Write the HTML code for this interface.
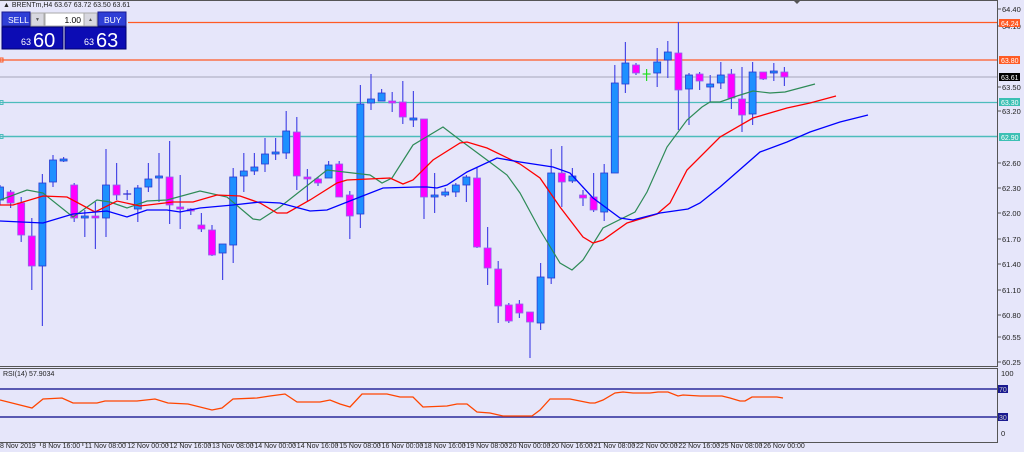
<!DOCTYPE html>
<html><head><meta charset="utf-8"><style>
html,body{margin:0;padding:0;background:#e6e6fa;width:1024px;height:452px;overflow:hidden;font-family:"Liberation Sans",sans-serif}
svg{position:absolute;left:0;top:0}
.t{font-size:7.5px;fill:#222}
.d{font-size:7px;fill:#222}
</style></head><body>
<svg id="s" width="1024" height="452" xmlns="http://www.w3.org/2000/svg">
<rect width="1024" height="452" fill="#e6e6fa"/>
<line x1="997.5" y1="0" x2="997.5" y2="366" stroke="#555" stroke-width="1"/>
<line x1="0" y1="0.5" x2="997" y2="0.5" stroke="#555"/>
<polygon points="793,0 801,0 797,4" fill="#555"/>
<line x1="0" y1="366.5" x2="998" y2="366.5" stroke="#555"/>
<line x1="0" y1="368.5" x2="998" y2="368.5" stroke="#555"/>
<line x1="997.5" y1="368" x2="997.5" y2="442" stroke="#555"/>
<line x1="0" y1="442.5" x2="998" y2="442.5" stroke="#555"/>
<line x1="128" y1="22.5" x2="997" y2="22.5" stroke="#ff5a24" stroke-width="1.3"/>
<line x1="0" y1="60" x2="997" y2="60" stroke="#ff5a24" stroke-width="1.3"/>
<rect x="0" y="58" width="3" height="4" fill="none" stroke="#ff5a24"/>
<line x1="0" y1="77" x2="997" y2="77" stroke="#b4b4c8" stroke-width="1.2"/>
<line x1="0" y1="102.5" x2="997" y2="102.5" stroke="#4cbcbc" stroke-width="1.3"/>
<rect x="0" y="100.5" width="3" height="4" fill="none" stroke="#4cbcbc"/>
<line x1="0" y1="136.5" x2="997" y2="136.5" stroke="#4cbcbc" stroke-width="1.6"/>
<rect x="0" y="134.5" width="3" height="4" fill="none" stroke="#4cbcbc"/>
<g id="cand"></g>
<polyline fill="none" stroke="#2e8b57" stroke-width="1.2" points="0,200 27,190 43,193 73,217 97,200 110,202 127,208 147,201 167,200 200,191 227,197 253,219 260,220 280,207 327,170 370,175 382,183 392,178 413,145 443,127 460,140 487,160 507,175 520,193 540,230 560,263 572,270 583,260 603,228 635,212 647,192 667,147 687,120 702,107 710,102 720,102 737,96 753,91 770,93 785,92 815,84"/>
<polyline fill="none" stroke="#ff0000" stroke-width="1.3" points="0,205 13,205 43,196 67,197 95,212 117,201 140,206 173,202 193,202 217,195 240,196 260,203 277,213 287,213 310,200 337,183 347,180 390,178 403,184 413,180 433,160 460,143 467,142 487,148 520,164 540,178 560,207 583,237 593,243 603,240 627,223 657,214 670,203 687,170 720,137 753,118 787,108 810,103 836,96"/>
<polyline fill="none" stroke="#0000ff" stroke-width="1.3" points="0,221 43,223 73,214 107,211 127,217 147,210 167,210 180,212 200,208 233,205 260,202 280,203 310,211 327,210 360,197 383,188 417,187 427,187 437,188 447,185 467,172 497,158 520,162 553,167 570,173 593,198 620,218 633,220 660,213 688,209 700,203 720,187 760,152 787,142 810,132 840,122 868,115"/>
<line x1="0" y1="389" x2="997" y2="389" stroke="#2a2a9a" stroke-width="1.5"/>
<line x1="0" y1="417" x2="997" y2="417" stroke="#2a2a9a" stroke-width="1.5"/>
<polyline fill="none" stroke="#ff4500" stroke-width="1.3" points="0,400 32,408 43,399 62,398 73,403 97,403 105,401 137,401 155,399 168,403 188,404 212,410 222,408 233,399 257,398 270,396 285,394 297,402 308,402 320,402 330,400 340,404 350,407 362,394 387,394 400,397 413,397 423,407 447,406 457,404 467,404 477,412 490,413 503,416 513,416 532,416 540,410 550,399 570,399 590,403 595,403 603,400 615,393 623,392 633,393 650,393 658,392 668,392 678,396 683,395 700,396 722,396 730,398 740,401 745,401 752,397 760,397 777,397 783,398"/>
<text x="3" y="376" class="t" style="font-size:7px">RSI(14) 57.9034</text>
<g class="t" id="ax"></g>
<g class="d" id="dt"></g>
<text x="3" y="7" class="t" style="font-size:7px">▲ BRENTm,H4  63.67 63.72 63.50 63.61</text>
<rect x="2" y="12" width="28" height="14" fill="#2f3fd6" stroke="#1a1a90"/>
<text x="8" y="23" fill="#fff" style="font-size:8.5px">SELL</text>
<rect x="31" y="13" width="13" height="13" fill="#d8d8e0" stroke="#aaa"/>
<text x="35" y="21" fill="#555" style="font-size:5px">▼</text>
<rect x="45" y="13" width="39" height="13" fill="#fff" stroke="#aaa"/>
<text x="81" y="23" text-anchor="end" fill="#000" style="font-size:8.5px">1.00</text>
<rect x="84" y="13" width="13" height="13" fill="#d8d8e0" stroke="#aaa"/>
<text x="88" y="21" fill="#555" style="font-size:5px">▲</text>
<rect x="98" y="12" width="28" height="14" fill="#2f3fd6" stroke="#1a1a90"/>
<text x="104" y="23" fill="#fff" style="font-size:8.5px">BUY</text>
<rect x="2" y="27" width="61" height="22" fill="#0c0cb4" stroke="#000070"/>
<rect x="65" y="27" width="61" height="22" fill="#0c0cb4" stroke="#000070"/>
<text x="21" y="45" fill="#fff" style="font-size:9px">63</text>
<text x="33" y="47" fill="#fff" style="font-size:20px">60</text>
<text x="84" y="45" fill="#fff" style="font-size:9px">63</text>
<text x="96" y="47" fill="#fff" style="font-size:20px">63</text>
</svg>
<script>
var NS="http://www.w3.org/2000/svg";
function el(p,t,a,txt){var e=document.createElementNS(NS,t);for(var k in a)e.setAttribute(k,a[k]);if(txt!=null)e.textContent=txt;p.appendChild(e);return e;}
var C=[[1,187,200,185,205],[0,192,203,190,208],[0,203,235,197,242],[0,236,266,218,290],[1,183,266,174,326],[1,160,182,155,187],[1,159,161,157,162],[0,185,218,183,222],[1,216,218,210,237],[0,216,217,202,249],
[1,185,218,149,237],[0,185,195,163,200],[2,194,194,190,200],[1,188,209,185,222],[1,179,187,163,192],[1,176,177,153,202],[0,177,205,141,224],[0,207,208,175,229],[0,209,211,208,215],[0,225,229,213,232],
[0,230,255,225,256],[1,244,253,244,280],[1,177,245,168,263],[1,171,176,153,192],[1,167,171,153,175],[1,154,164,138,172],[1,152,153,138,160],[1,131,153,111,159],[0,132,176,117,190],[0,177,179,169,201],
[0,179,183,177,186],[1,165,178,161,178],[0,164,197,161,197],[0,195,216,191,239],[1,104,214,85,228],[1,99,103,74,110],[1,93,101,89,101],[0,101,103,92,112],[0,102,117,81,124],[1,118,119,91,127],
[0,119,197,119,219],[1,195,197,173,213],[1,192,195,188,197],[1,185,192,183,197],[1,177,185,175,202],[0,178,247,168,248],[0,248,268,227,285],[0,269,306,261,323],[0,305,321,303,323],[0,304,313,300,318],
[0,312,322,312,358],[1,277,323,263,330],[1,173,278,149,284],[0,173,182,146,207],[1,176,181,168,183],[0,195,198,190,206],[0,197,210,173,212],[1,173,212,164,221],[1,83,173,65,173],[1,63,84,42,93],
[0,65,73,63,75],[3,74,74,69,81],[1,62,73,48,87],[1,52,60,41,78],[0,53,90,22,130],[1,75,89,73,125],[0,74,81,72,90],[1,84,87,75,102],[1,75,83,62,89],[0,74,98,69,109],
[0,99,115,67,132],[1,72,114,62,125],[0,72,79,72,80],[1,71,73,63,81],[0,72,77,67,86]];
var g=document.getElementById("cand");
C.forEach(function(c,i){var x=10.6*i;
 var wc=c[0]==3?"#22dd22":"#4a4ae6";
 el(g,"line",{x1:x,y1:c[3],x2:x,y2:c[4],stroke:wc,"stroke-width":1.2});
 if(c[0]==3){el(g,"line",{x1:x-4,y1:c[1],x2:x+4,y2:c[1],stroke:wc,"stroke-width":1.2});return;}
 if(c[0]==2){el(g,"line",{x1:x-4,y1:c[1],x2:x+4,y2:c[1],stroke:"#2a2ad0","stroke-width":1.2});return;}
 var h=Math.max(c[2]-c[1],2);
 el(g,"rect",{x:x-3.5,y:c[1],width:7,height:h,fill:c[0]?"#1e90ff":"#ff00ff",stroke:c[0]?"#2a3ad0":"#8a6ae8","stroke-width":0.8});
});
var ax=document.getElementById("ax");
[["64.40",9],["64.10",26],["63.50",87],["63.20",111],["62.60",163],["62.30",188],["62.00",213],["61.70",239],["61.40",264],["61.10",290],["60.80",315],["60.55",337],["60.25",362]].forEach(function(a){
 el(ax,"line",{x1:997,y1:a[1],x2:1001,y2:a[1],stroke:"#555"});
 el(ax,"text",{x:1002,y:a[1]+3},a[0]);});
[["64.24",23,"#ff5a24","#fff"],["63.80",60,"#ff5a24","#fff"],["63.61",77,"#000","#fff"],["63.30",102,"#3cc0b4","#fff"],["62.90",137,"#3cc0b4","#fff"]].forEach(function(a){
 el(ax,"rect",{x:999,y:a[1]-4,width:21,height:8,fill:a[2]});
 el(ax,"text",{x:1001,y:a[1]+3,fill:a[3],style:"font-size:7px"},a[0]);});
[["100",373],["0",433]].forEach(function(a){el(ax,"text",{x:1001,y:a[1]+3},a[0]);});
[["70",389],["30",417]].forEach(function(a){el(ax,"rect",{x:998,y:a[1]-4,width:10,height:8,fill:"#1a1a90"});el(ax,"text",{x:999,y:a[1]+3,fill:"#ccc",style:"font-size:7px"},a[0]);});
var dt=document.getElementById("dt");
var L=["8 Nov 2019","8 Nov 16:00","11 Nov 08:00","12 Nov 00:00","12 Nov 16:00","13 Nov 08:00","14 Nov 00:00","14 Nov 16:00","15 Nov 08:00","16 Nov 00:00","18 Nov 16:00","19 Nov 08:00","20 Nov 00:00","20 Nov 16:00","21 Nov 08:00","22 Nov 00:00","22 Nov 16:00","25 Nov 08:00","26 Nov 00:00"];
L.forEach(function(s,i){var x=-2+42.4*i;
 el(dt,"line",{x1:x,y1:442,x2:x,y2:446,stroke:"#555"});
 el(dt,"text",{x:x+2,y:448},s);});
</script>
</body></html>
